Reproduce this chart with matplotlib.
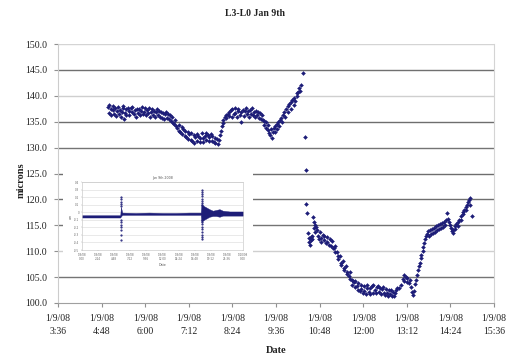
import matplotlib
matplotlib.use('Agg')
import matplotlib.pyplot as plt
import pandas as pd

plt.rcParams['font.family'] = ['Liberation Serif', 'DejaVu Serif']

# ---------------- data ----------------
title = "L3-L0 Jan 9th"
x_label = "Date"
y_label = "microns"
day = "2008-01-09"
date_prefix = "1/9/08"

# minutes after midnight, and readings (microns)
minutes = [
    299, 300, 301, 303, 304, 306, 307, 309, 310, 312, 313, 315, 316, 318, 320, 321, 323, 324, 325, 326,
    328, 329, 331, 333, 334, 336, 338, 339, 341, 343, 344, 346, 348, 349, 351, 353, 354, 356, 358, 359,
    361, 363, 364, 366, 368, 369, 371, 373, 374, 376, 378, 379, 381, 383, 384, 386, 388, 390, 391, 393,
    395, 396, 398, 400, 401, 403, 405, 406, 408, 410, 411, 413,
    415, 416, 418, 420, 421, 423, 425, 426, 428, 430, 431, 433,
    435, 436, 438, 440, 441, 443, 445, 446, 448, 450, 451, 453, 455, 456, 458, 460, 461, 463, 465, 466,
    468, 470, 471, 473, 475, 476, 478, 480,
    482, 483, 485, 486, 488, 489, 491, 493, 494, 496, 498, 499,
    501, 503, 504, 506, 508, 509, 511, 513, 514, 516, 518, 519, 521, 523, 524, 526, 528, 529, 531, 533,
    534, 536, 538, 539, 541, 543, 544, 546, 548, 549, 551, 553, 554,
    556, 557, 559, 560, 562, 563, 565, 566, 568, 569,
    571, 572, 574, 575, 577, 578, 580, 581, 583, 585,
    586, 588, 590, 591, 593, 595, 596, 598, 600, 601, 603, 605, 606, 608, 610, 611, 613, 614, 616, 618,
    621, 624, 625, 626, 627,
    629, 630, 631, 632, 633, 634, 635, 636, 637, 638, 639, 640, 641, 642,
    644, 645, 647, 648, 650, 651, 653, 655, 656, 658, 660, 661, 663, 665, 666, 668, 670,
    671, 673, 674, 676, 678, 679, 681, 683, 684, 686, 688, 689, 691, 693, 694, 696, 698, 699, 701, 702, 703,
    704, 706, 707, 709, 711, 712, 714, 716, 717, 719, 721, 722, 724, 726, 727, 729, 731, 732, 734, 736,
    737, 739, 741, 742, 744, 746, 747, 749, 751, 752, 754, 756, 757, 759, 761, 762, 764, 766, 767, 769,
    771, 773, 774, 776,
    779, 782, 785, 787, 788, 790, 792, 793, 795, 797, 799, 801, 803, 804,
    806, 807, 809, 810, 812, 813, 815, 816, 818, 819, 821, 822, 824, 825,
    827, 828, 830, 832, 833, 835, 837, 838, 840, 842, 843, 845, 847, 848, 850, 852, 853, 855, 857, 858,
    860, 861, 863, 865, 866, 868, 869,
    871, 872, 874, 876, 877, 879, 881, 882, 884, 885, 887, 889, 890, 892, 893, 895, 896, 897, 899,
]
microns = [
    137.9, 138.3, 136.6, 137.5, 136.2, 137.3, 138.1, 136.5, 137.6, 136.1, 137.0, 137.8, 136.4, 137.2, 135.9, 136.8, 137.6, 138.0, 135.5, 136.6,
    137.4, 136.3, 137.7, 137.0, 136.2, 137.6, 136.8, 137.9, 136.4, 137.3, 136.0, 137.5, 136.6, 137.4, 136.2, 137.1, 137.8, 136.4, 136.9, 137.6,
    136.2, 137.3, 136.7, 137.7, 135.9, 136.9, 137.5, 136.3, 137.1, 135.9, 136.8, 137.4, 136.2, 137.0, 136.0, 136.9, 135.8, 136.7, 135.5, 136.4,
    136.8, 135.8, 136.5, 135.5, 136.2, 135.2, 135.9, 134.8, 134.5, 135.3, 134.1, 133.8,
    133.3, 134.4, 133.0, 133.9, 132.6, 133.5, 132.3, 133.2, 132.0, 133.0, 131.7, 132.7,
    131.5, 132.8, 131.2, 132.5, 130.9, 132.1, 132.7, 131.3, 132.2, 131.0, 131.9, 132.8, 131.8, 131.1, 132.3, 132.9, 131.5, 132.4, 131.2, 132.0,
    132.7, 131.3, 132.2, 131.1, 131.9, 130.9, 131.6, 130.6,
    131.5, 132.4, 133.3, 134.1, 134.8, 135.3, 135.9, 136.2, 135.7, 136.5, 136.8, 136.1,
    137.2, 136.0, 137.4, 136.4, 137.6, 136.7, 135.9, 137.1, 137.5, 136.3, 135.0, 136.9, 137.3, 136.1, 137.0, 137.7, 136.4, 137.1, 135.9, 137.2,
    136.5, 137.6, 136.2, 136.9, 136.0, 137.1, 136.2, 136.8, 135.7, 136.6, 135.5, 136.3, 135.3,
    135.2, 134.4, 135.0, 133.8, 133.4, 134.3, 132.9, 132.4, 133.5, 131.9,
    133.0, 133.8, 133.1, 134.2, 133.6, 134.6, 135.0, 134.1, 135.3, 135.8,
    135.0, 136.2, 136.9, 136.0, 137.5, 136.8, 138.0, 138.4, 137.4, 138.8, 139.2, 138.2, 139.6, 139.0, 140.0, 140.5, 140.8, 141.5, 141.0, 142.0,
    144.4, 132.0, 125.7, 119.2, 117.4,
    113.5, 112.5, 111.8, 111.2, 112.2, 112.7, 112.3, 112.9, 116.6, 114.4, 115.7, 115.1, 113.8, 114.6,
    114.0, 112.9, 112.3, 113.7, 112.6, 111.8, 113.2, 112.1, 112.9, 111.6, 112.7, 111.8, 111.2, 112.3, 111.1, 111.9, 110.7,
    110.6, 111.0, 109.8, 109.8, 109.0, 108.4, 109.1, 107.8, 107.4, 108.1, 106.8, 106.4, 107.1, 106.0, 105.6, 105.2, 105.9, 104.7, 104.4, 103.5, 104.3,
    104.0, 103.0, 104.3, 103.3, 102.6, 103.8, 102.3, 103.5, 102.7, 101.9, 103.2, 102.4, 101.8, 102.9, 103.4, 102.2, 101.7, 102.8, 103.2, 102.0,
    103.4, 102.6, 101.9, 103.0, 103.3, 102.1, 102.9, 101.8, 102.7, 103.1, 102.0, 101.6, 102.7, 102.0, 101.4, 102.6, 101.7, 102.5, 101.3, 102.1,
    101.4, 102.0, 102.5, 102.8,
    102.8, 103.5, 104.6, 105.5, 104.3, 105.1, 104.0, 104.9, 103.8, 104.4, 103.1, 102.2, 101.5, 102.4,
    103.6, 104.5, 105.4, 106.3, 107.1, 107.8, 108.6, 109.2, 110.0, 110.8, 111.5, 112.3, 112.9, 113.4,
    113.9, 113.0, 114.0, 113.3, 114.3, 113.5, 114.5, 113.8, 114.8, 114.0, 115.0, 114.3, 115.2, 114.5, 115.4, 114.7, 115.7, 115.0, 116.0, 117.3,
    116.2, 115.6, 115.0, 114.4, 113.9, 113.5, 114.0,
    114.3, 114.9, 115.3, 114.8, 115.7, 116.1, 116.7, 116.0, 117.2, 117.5, 117.9, 118.5, 117.9, 119.0, 119.5, 119.9, 120.3, 119.0, 116.7,
]

tick_times = ["3:36", "4:48", "6:00", "7:12", "8:24", "9:36",
              "10:48", "12:00", "13:12", "14:24", "15:36"]
y_ticks = [100.0, 105.0, 110.0, 115.0, 120.0, 125.0, 130.0, 135.0, 140.0, 145.0, 150.0]

# inset chart (Jan 9th 2008, full day)
inset_title = "Jan 9th 2008"
inset_x_label = "Date"
inset_y_label = "um"
inset_tick_hours = [0.0, 2.4, 4.8, 7.2, 9.6, 12.0, 14.4, 16.8, 19.2, 21.6, 24.0]
inset_tick_labels = ["1/9/08\n0:00", "1/9/08\n2:24", "1/9/08\n4:48", "1/9/08\n7:12",
                     "1/9/08\n9:36", "1/9/08\n12:00", "1/9/08\n14:24", "1/9/08\n16:48",
                     "1/9/08\n19:12", "1/9/08\n21:36", "1/10/08\n0:00"]
inset_y_ticks = [0.4, 0.3, 0.2, 0.1, 0.0, -0.1, -0.2, -0.3, -0.4, -0.5]
inset_hours = [0.0, 2.0, 4.0, 5.7, 5.8, 6.0, 8.0, 10.0, 12.0, 14.0, 16.0, 17.7, 17.8,
               17.9, 18.2, 18.6, 19.0, 19.5, 20.0, 20.5, 21.0, 22.0, 23.0, 24.0]
inset_hi = [-0.04, -0.04, -0.04, -0.04, 0.07, -0.005, -0.01, -0.005, -0.01, -0.01, -0.005, -0.005, 0.11,
            0.10, 0.08, 0.06, 0.04, 0.02, 0.03, 0.04, 0.02, 0.01, 0.01, 0.01]
inset_lo = [-0.07, -0.07, -0.07, -0.07, -0.055, -0.035, -0.035, -0.035, -0.035, -0.035, -0.035, -0.035, -0.13,
            -0.12, -0.10, -0.08, -0.06, -0.05, -0.05, -0.06, -0.045, -0.045, -0.045, -0.045]
inset_spike_hours = [5.77, 5.77, 5.77, 5.77, 5.77, 5.77, 5.77, 5.77, 5.77, 5.77, 5.77, 5.77,
                     17.82, 17.84, 17.86, 17.82, 17.84, 17.86, 17.83, 17.85, 17.82, 17.84,
                     17.86, 17.83, 17.85, 17.84, 17.83, 17.85, 17.84]
inset_spike_values = [0.20, 0.17, 0.14, 0.11, 0.08, -0.10, -0.13, -0.17, -0.20, -0.24, -0.30, -0.37,
                      0.30, 0.27, 0.24, 0.21, 0.18, 0.15, 0.12, 0.09, -0.10, -0.13,
                      -0.16, -0.19, -0.22, -0.26, -0.30, -0.33, -0.36]

# ---------------- plot ----------------
navy = '#1d1d78'
fig = plt.figure(figsize=(5.07, 3.58), dpi=100)
fig.patch.set_facecolor('white')

ax = fig.add_axes([58 / 507, 1 - 303 / 358, 436 / 507, 259 / 358], zorder=1)
base = pd.Timestamp(day)
times = base + pd.to_timedelta(minutes, unit='min')
tick_dt = [base + pd.Timedelta(hours=int(t.split(':')[0]), minutes=int(t.split(':')[1]))
           for t in tick_times]

# gridlines (scanned look: some lighter than others)
grid_colors = {150.0: '#d4d4d4', 145.0: '#707070', 140.0: '#cfcfcf', 135.0: '#6e6e6e',
               130.0: '#747474', 125.0: '#6e6e6e', 120.0: '#6e6e6e', 115.0: '#747474',
               110.0: '#cfcfcf', 105.0: '#757575'}
for yv in y_ticks[1:]:
    ax.axhline(yv, color=grid_colors[yv], lw=1.0, zorder=0.5)

ax.plot(times, microns, linestyle='none', marker='D', ms=2.0, color=navy,
        markeredgewidth=0.3, zorder=3)

ax.set_xlim(tick_dt[0], tick_dt[-1])
ax.set_ylim(y_ticks[0], y_ticks[-1])
ax.set_xticks(tick_dt)
ax.set_xticklabels([f"{date_prefix}\n{t}" for t in tick_times], fontsize=7,
                   color='#222222', linespacing=1.5)
ax.set_yticks(y_ticks)
ax.set_yticklabels([f"{v:.1f}" for v in y_ticks], fontsize=7, color='#222222')
ax.tick_params(axis='x', direction='out', length=3, color='#909090', pad=5)
ax.tick_params(axis='y', direction='out', length=3, color='#909090', pad=5)

ax.spines['top'].set_visible(False)
ax.spines['left'].set_color('#cccccc')
ax.spines['right'].set_color('#d4d4d4')
ax.spines['bottom'].set_color('#a0a0a0')

ax.set_xlabel(x_label, fontsize=7.5, fontweight='bold', color='#222222')
ax.xaxis.set_label_coords(0.5, -0.165)
ax.set_ylabel(y_label, fontsize=7.5, fontweight='bold', color='#222222')
ax.yaxis.set_label_coords(-0.075, 0.473)

fig.text(0.503, 1 - 14 / 358, title, ha='center', va='center', fontsize=7,
         fontweight='bold', color='#222222')

# white box behind the inset
bg = fig.add_axes([63 / 507, 1 - 265 / 358, 190 / 507, 100 / 358], zorder=2)
bg.set_facecolor('white')
bg.set_xticks([])
bg.set_yticks([])
for s in bg.spines.values():
    s.set_visible(False)

# inset chart
ins = fig.add_axes([82 / 507, 1 - 250 / 358, 161 / 507, 68 / 358], zorder=3)
ins.set_facecolor('white')
for yv in inset_y_ticks:
    ins.axhline(yv, color='#d8d8d8', lw=0.4, zorder=0.5)
ins.fill_between(inset_hours, inset_lo, inset_hi, color=navy, lw=0.3, zorder=2)
ins.plot(inset_spike_hours, inset_spike_values, linestyle='none', marker='.', ms=1.1,
         color=navy, zorder=3)
ins.set_xlim(inset_tick_hours[0], inset_tick_hours[-1])
ins.set_ylim(min(inset_y_ticks), max(inset_y_ticks))
ins.set_xticks(inset_tick_hours)
ins.set_xticklabels(inset_tick_labels, fontsize=2.0, color='#666666', family='DejaVu Sans')
ins.set_yticks(inset_y_ticks)
ins.set_yticklabels([f"{v:g}" for v in inset_y_ticks], fontsize=2.0, color='#666666',
                    family='DejaVu Sans')
ins.tick_params(length=1, width=0.3, color='#aaaaaa', pad=1)
for s in ins.spines.values():
    s.set_color('#c0c0c0')
    s.set_linewidth(0.4)
ins.set_title(inset_title, fontsize=2.3, color='#555555', family='DejaVu Sans', pad=2)
ins.set_xlabel(inset_x_label, fontsize=2.3, color='#555555', family='DejaVu Sans', labelpad=1)
ins.set_ylabel(inset_y_label, fontsize=2.3, color='#555555', family='DejaVu Sans', labelpad=1)

fig.savefig('out.png', dpi=100, facecolor='white')
